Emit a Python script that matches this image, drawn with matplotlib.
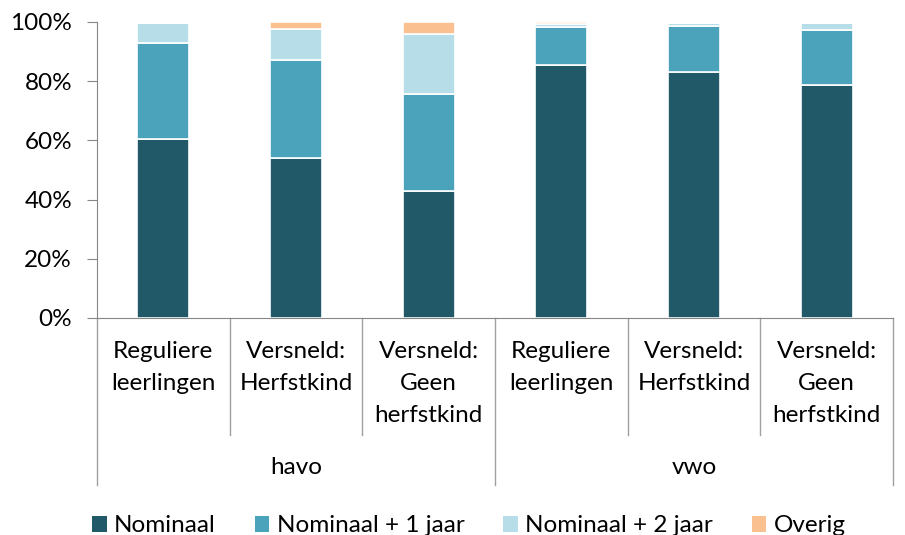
import matplotlib.pyplot as plt
from matplotlib.patches import Patch

plt.rcParams['font.family'] = ['Lato', 'DejaVu Sans']

# Data (percentages)
groups = ['havo', 'vwo']
categories = ['Reguliere\nleerlingen', 'Versneld:\nHerfstkind', 'Versneld:\nGeen\nherfstkind',
              'Reguliere\nleerlingen', 'Versneld:\nHerfstkind', 'Versneld:\nGeen\nherfstkind']
series = ['Nominaal', 'Nominaal + 1 jaar', 'Nominaal + 2 jaar', 'Overig']
nominaal = [60.5, 54.0, 43.0, 85.5, 83.1, 78.7]
nominaal_1 = [32.4, 33.2, 32.7, 12.9, 15.5, 18.6]
nominaal_2 = [6.6, 10.5, 20.1, 0.8, 1.2, 2.5]
overig = [0.5, 2.3, 4.2, 0.8, 0.2, 0.2]
colors = ['#215968', '#4BA3BB', '#B7DEE8', '#FAC090']

fs = 17.5
fig = plt.figure(figsize=(9.05, 5.35), dpi=100)
ax = fig.add_axes([97 / 905, 1 - 318 / 535, 796 / 905, 296 / 535])

x = range(len(categories))
bottom = [0.0] * len(categories)
for vals, col in zip([nominaal, nominaal_1, nominaal_2, overig], colors):
    v = [a / 100 for a in vals]
    ax.bar(x, v, width=0.39, bottom=bottom, color=col, edgecolor='white', linewidth=1.2)
    bottom = [b + a for b, a in zip(bottom, v)]

ax.set_xlim(-0.5, 5.5)
ax.set_ylim(0, 1)
ax.set_yticks([0, 0.2, 0.4, 0.6, 0.8, 1.0])
ax.set_yticklabels(['0%', '20%', '40%', '60%', '80%', '100%'], fontsize=fs)
ax.tick_params(axis='y', length=7, color='#868686', pad=11)
ax.set_xticks([])
for s in ['top', 'right']:
    ax.spines[s].set_visible(False)
for s in ['left', 'bottom']:
    ax.spines[s].set_color('#868686')

# multi-level category axis
for i, lab in enumerate(categories):
    ax.text(i, -0.078, lab, ha='center', va='top', fontsize=fs, linespacing=1.65)
for xd in [0.5, 1.5, 3.5, 4.5]:
    ax.plot([xd, xd], [0, -0.395], color='#A0A0A0', lw=1, clip_on=False)
for xd in [-0.5, 2.5, 5.5]:
    ax.plot([xd, xd], [0, -0.565], color='#A0A0A0', lw=1, clip_on=False)
for gi, g in enumerate(groups):
    ax.text(1 + 3 * gi, -0.505, g, ha='center', va='center', fontsize=fs)

handles = [Patch(facecolor=c, label=s) for c, s in zip(colors, series)]
fig.legend(handles=handles, loc='center', bbox_to_anchor=(469 / 905, 1 - 526 / 535), ncol=4,
           frameon=False, fontsize=fs, handlelength=0.6, handleheight=0.6,
           handletextpad=0.3, columnspacing=1.6)

fig.savefig('out.png', dpi=100)
